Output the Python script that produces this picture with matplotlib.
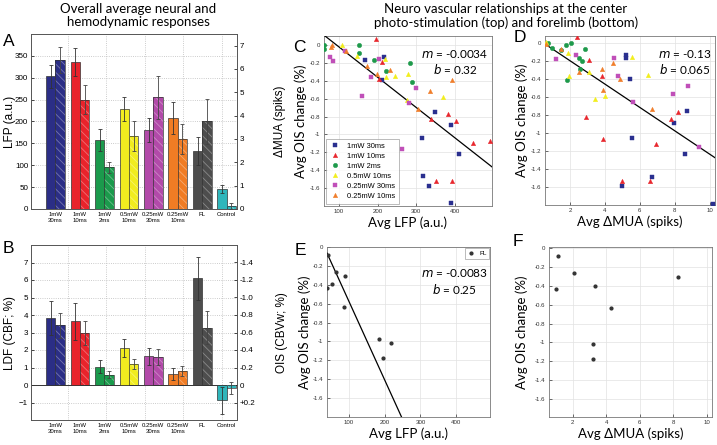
import numpy as np
import matplotlib
matplotlib.use('Agg')
import matplotlib.pyplot as plt
from matplotlib.ticker import FuncFormatter
from matplotlib.colors import to_rgb

plt.rcParams['font.family'] = ['Liberation Sans', 'DejaVu Sans']
plt.rcParams['hatch.linewidth'] = 0.6

# ---------------- bar data (panels A, B) ----------------
groups = ['1mW\n30ms', '1mW\n10ms', '1mW\n2ms', '0.5mW\n10ms',
          '0.25mW\n30ms', '0.25mW\n10ms', 'FL', 'Control']
bar_colors = ['#2b2e86', '#e8232b', '#1b9a4c', '#f1ec1f',
              '#b24aa9', '#f07c24', '#4d4d4d', '#2fb6bb']

lfp_mean = [303, 336, 157, 229, 181, 208, 132, 46]
lfp_err = [27, 32, 25, 27, 27, 37, 32, 9]
mua_mean = [6.38, 4.69, 1.78, 3.13, 4.78, 3.00, 3.75, 0.13]
mua_err = [0.56, 0.62, 0.23, 0.64, 0.94, 0.66, 0.98, 0.11]

ldf_mean = [3.85, 3.65, 1.05, 2.12, 1.63, 0.62, 6.10, -0.88]
ldf_err = [0.97, 1.05, 0.37, 0.50, 0.47, 0.35, 1.22, 0.77]
ois_mean = [-0.68, -0.59, -0.12, -0.24, -0.32, -0.16, -0.656, 0.034]
ois_err = [0.14, 0.136, 0.04, 0.056, 0.09, 0.06, 0.19, 0.07]

# ---------------- scatter data (panels C, D) ----------------
stim_names = ['1mW 30ms', '1mW 10ms', '1mW 2ms', '0.5mW 10ms',
              '0.25mW 30ms', '0.25mW 10ms']
stim_colors = ['#2a2f8f', '#e8262d', '#1e9a4b', '#f2ee1c', '#c04fb8', '#f07d2a']
stim_markers = ['s', '^', 'o', '^', 's', '^']

c_lfp = [[168, 217, 211, 347, 390, 314, 411, 316, 333, 389],
         [196, 211, 205, 381, 338, 403, 447, 490, 350, 392],
         [62, 62, 153, 153, 190, 223, 284, 288],
         [109, 148, 220, 223, 245, 279, 369, 275],
         [77, 86, 115, 203, 183, 160, 298, 281, 262],
         [80, 83, 118, 173, 198, 231, 392, 334, 303]]
c_ois = [[-0.17, -0.14, -0.39, -0.75, -0.89, -1.04, -1.22, -1.47, -1.58, -1.77],
         [0.07, -0.19, -0.38, -0.77, -0.83, -0.85, -1.10, -1.07, -1.52, -1.52],
         [0.0, -0.05, 0.0, -0.09, -0.17, -0.29, -0.20, -0.41],
         [0.0, -0.12, -0.16, -0.36, -0.35, -0.32, -0.58, -0.62],
         [-0.13, -0.18, -0.07, -0.16, -0.36, -0.57, -0.48, -0.65, -1.16],
         [-0.02, 0.0, -0.07, -0.23, -0.32, -0.28, -0.39, -0.51, -0.72]]

d_mua = [[5.2, 5.2, 5.43, 7.96, 8.67, 5.56, 8.57, 6.67, 4.95, 10.2],
         [2.38, 3.09, 3.81, 7.81, 2.9, 8.19, 6.95, 3.87, 4.95, 6.57],
         [0.75, 0.95, 1.47, 1.77, 2.06, 2.51, 2.7, 2.88, 2.55, 1.85],
         [0.6, 1.9, 1.94, 3.1, 3.43, 4.0, 5.56, 6.44],
         [1.2, 2.34, 4.51, 4.76, 5.62, 7.87, 8.76, 9.39],
         [0.65, 1.47, 2.5, 3.85, 3.9, 4.44, 4.86, 6.72]]
d_ois = [[-0.13, -0.16, -0.40, -0.89, -0.75, -1.05, -1.23, -1.49, -1.59, -1.79],
         [0.07, -0.19, -0.37, -0.84, -0.82, -0.77, -1.12, -1.07, -1.53, -1.53],
         [0.0, -0.05, -0.08, -0.02, 0.0, -0.16, -0.20, -0.06, -0.29, -0.41],
         [0.01, -0.11, -0.37, -0.32, -0.62, -0.59, -0.15, -0.35],
         [-0.18, -0.13, -0.16, -0.37, -0.65, -0.57, -0.48, -1.16],
         [-0.01, -0.07, -0.32, -0.29, -0.52, -0.22, -0.40, -0.73]]

# ---------------- forelimb data (panels E, F) ----------------
fl_lfp = [40, 39, 51, 64, 89, 86, 184, 217, 196]
fl_ois_e = [-0.08, -0.43, -0.39, -0.26, -0.31, -0.64, -0.97, -1.02, -1.18]
fl_mua = [1.14, 1.04, 3.35, 2.1, 8.25, 4.27, 3.2, 3.2]
fl_ois_f = [-0.09, -0.43, -0.40, -0.27, -0.31, -0.64, -1.02, -1.18]

fit_c = (-0.0034, 0.32)
fit_d = (-0.13, 0.065)
fit_e = (-0.0083, 0.25)

W, H = 717, 445
fig = plt.figure(figsize=(W / 100, H / 100), dpi=100)


def box(l, t, r, b):
    return [l / W, 1 - b / H, (r - l) / W, (b - t) / H]


def lighter(c, f=0.35):
    r, g, b = to_rgb(c)
    return (r + (1 - r) * f, g + (1 - g) * f, b + (1 - b) * f)


def frame(ax, col='#555'):
    for s in ax.spines.values():
        s.set_linewidth(0.6)
        s.set_color(col)


narrow = ['Liberation Sans Narrow', 'Liberation Sans']
calib = ['Lato', 'DejaVu Sans']
x = np.arange(len(groups))
bw = 0.38
grid_x = np.linspace(0.5, 6.8, 5)


def bar_panel(ax, ax2, left_vals, left_err, right_vals, right_err):
    ax.set_xlim(-1.0, 7.42)
    ax.bar(x - bw / 2, left_vals, bw, color=bar_colors, edgecolor='#333',
           linewidth=0.5, zorder=2)
    ax.errorbar(x - bw / 2, left_vals, yerr=left_err, fmt='none', ecolor='#333',
                elinewidth=0.6, capsize=1.5, capthick=0.6, zorder=3)
    ax2.bar(x + bw / 2, right_vals, bw, color=bar_colors,
            edgecolor=[lighter(c) for c in bar_colors], linewidth=0,
            hatch='\\\\\\\\', zorder=2)
    ax2.bar(x + bw / 2, right_vals, bw, facecolor='none', edgecolor='#333',
            linewidth=0.5, zorder=2)
    ax2.errorbar(x + bw / 2, right_vals, yerr=right_err, fmt='none', ecolor='#444',
                 elinewidth=0.6, capsize=1.5, capthick=0.6, zorder=3)
    ax.set_xticks(x)
    ax.set_xticklabels(groups, fontsize=4.3, family=narrow, linespacing=1.3)
    ax.set_xticks(grid_x, minor=True)
    ax.tick_params(axis='x', which='both', length=0, pad=2)
    ax.grid(True, which='minor', axis='x', ls=':', lw=0.6, color='#bbb')
    ax.grid(True, which='major', axis='y', ls=':', lw=0.6, color='#bbb')
    ax.set_axisbelow(True)
    ax.tick_params(axis='y', direction='in', length=2, width=0.5, labelsize=5.8, pad=2)
    ax2.tick_params(axis='y', direction='in', length=2, width=0.5, labelsize=5.8, pad=2)
    frame(ax)
    frame(ax2)


# ---------------- Panel A ----------------
axA = fig.add_axes(box(31, 34, 237, 209))
axA2 = axA.twinx()
bar_panel(axA, axA2, lfp_mean, lfp_err, mua_mean, mua_err)
axA.set_ylim(0, 400)
axA.set_yticks(np.arange(0, 351, 50))
axA2.set_ylim(0, 7.5)
axA2.set_yticks(np.arange(0, 8))
axA.set_ylabel('LFP (a.u.)', fontsize=8.5)
axA.yaxis.set_label_coords(-0.075, 0.5)
axA2.set_ylabel('\u0394MUA (spiks)', fontsize=8.5)
axA2.yaxis.set_label_coords(1.18, 0.5)

# ---------------- Panel B ----------------
axB = fig.add_axes(box(31, 245, 237, 420))
axB2 = axB.twinx()
bar_panel(axB, axB2, ldf_mean, ldf_err, ois_mean, ois_err)
axB.axhline(0, color='#333', lw=0.7, zorder=1)
axB.set_ylim(-2, 8)
axB.set_yticks(np.arange(-1, 8))
axB2.set_ylim(0.4, -1.6)
right_ticks = np.round(np.arange(-1.4, 0.21, 0.2), 1)
axB2.set_yticks(right_ticks)
axB2.set_yticklabels(['0' if abs(v) < 1e-9 else ('+%.1f' % v if v > 0 else '%.1f' % v)
                      for v in right_ticks])
axB.set_ylabel('LDF (CBF; %)', fontsize=8.5)
axB.yaxis.set_label_coords(-0.075, 0.5)
axB2.set_ylabel('OIS (CBVw; %)', fontsize=8.5)
axB2.yaxis.set_label_coords(1.19, 0.5)


# ---------------- scatter panels ----------------
def fmt_tick(v, p):
    v = round(v, 2)
    return '0' if abs(v) < 1e-9 else '%g' % v


def scatter_axes(rect, xlim, ylim, xticks, xlabel):
    ax = fig.add_axes(box(*rect))
    ax.set_xlim(*xlim)
    ax.set_ylim(*ylim)
    ax.set_xticks(xticks)
    ax.set_yticks(np.round(np.arange(-1.6, 0.01, 0.2), 1))
    ax.yaxis.set_major_formatter(FuncFormatter(fmt_tick))
    ax.grid(True, color='#e2e2e2', lw=0.5)
    ax.set_axisbelow(True)
    ax.tick_params(direction='in', length=2, width=0.5, labelsize=4.4,
                   colors='#333', pad=2.5)
    frame(ax, '#777')
    ax.set_xlabel(xlabel, fontsize=9.5, family=calib, labelpad=1.5)
    ax.set_ylabel('Avg OIS change (%)', fontsize=9.5, family=calib)
    return ax


def fit_line(ax, fit):
    xs = np.array(ax.get_xlim())
    ax.plot(xs, fit[0] * xs + fit[1], color='black', lw=0.9, zorder=3)


# Panel C
axC = scatter_axes((324, 36, 492, 206), (62, 495), (-1.8, 0.1),
                   [100, 200, 300, 400], 'Avg LFP (a.u.)')
for xs, ys, c, mk, nm in zip(c_lfp, c_ois, stim_colors, stim_markers, stim_names):
    axC.plot(xs, ys, ls='none', marker=mk, ms=3.2, mfc=c, mec=c, mew=0.3,
             label=nm, zorder=4)
fit_line(axC, fit_c)
axC.text(0.78, 0.93, '$m$ = -0.0034\n$b$ = 0.32', transform=axC.transAxes,
         ha='center', va='top', fontsize=8.5, family=calib, linespacing=1.2)
leg = axC.legend(loc='lower left', fontsize=5.4, frameon=True, fancybox=False,
                 edgecolor='#888', borderpad=0.5, handletextpad=1.0,
                 labelspacing=0.38, handlelength=1.3, borderaxespad=0.3)
leg.get_frame().set_linewidth(0.5)
axC.yaxis.set_label_coords(-0.1, 0.5)

# Panel D
axD = scatter_axes((545, 36, 715, 205), (0.57, 10.3), (-1.8, 0.08),
                   [2, 4, 6, 8, 10], 'Avg \u0394MUA (spiks)')
for xs, ys, c, mk in zip(d_mua, d_ois, stim_colors, stim_markers):
    axD.plot(xs, ys, ls='none', marker=mk, ms=3.2, mfc=c, mec=c, mew=0.3, zorder=4)
fit_line(axD, fit_d)
axD.text(0.82, 0.93, '$m$ = -0.13\n$b$ = 0.065', transform=axD.transAxes,
         ha='center', va='top', fontsize=8.5, family=calib, linespacing=1.2)
axD.yaxis.set_label_coords(-0.1, 0.5)

# Panel E
axE = scatter_axes((327, 247, 490, 417), (38, 495), (-1.8, 0.0),
                   [100, 200, 300, 400], 'Avg LFP (a.u.)')
axE.plot(fl_lfp, fl_ois_e, ls='none', marker='o', ms=2.0, mfc='#333', mec='#333',
         label='FL', zorder=4)
fit_line(axE, fit_e)
axE.text(0.78, 0.88, '$m$ = -0.0083\n$b$ = 0.25', transform=axE.transAxes,
         ha='center', va='top', fontsize=8.5, family=calib, linespacing=1.2)
legE = axE.legend(loc='upper right', fontsize=4.6, frameon=True, fancybox=False,
                  edgecolor='#888', borderpad=0.4, handlelength=1.0,
                  handletextpad=0.8, borderaxespad=0.15)
legE.get_frame().set_linewidth(0.5)
axE.yaxis.set_label_coords(-0.1, 0.5)

# Panel F
axF = scatter_axes((549, 247, 712, 417), (0.6, 10.3), (-1.79, 0.01),
                   [2, 4, 6, 8, 10], 'Avg \u0394MUA (spiks)')
axF.plot(fl_mua, fl_ois_f, ls='none', marker='o', ms=2.0, mfc='#333', mec='#333',
         zorder=4)
axF.yaxis.set_label_coords(-0.13, 0.5)

# ---------------- titles and panel letters ----------------
fig.text(138 / W, 1 - 3 / H, 'Overall average neural and\nhemodynamic responses',
         ha='center', va='top', fontsize=9.5, family=calib, linespacing=1.15)
fig.text(506 / W, 1 - 3 / H,
         'Neuro vascular relationships at the center\nphoto-stimulation (top) and forelimb (bottom)',
         ha='center', va='top', fontsize=9.5, family=calib, linespacing=1.15)

for lab, px, py in [('A', 3, 41), ('B', 3, 249), ('C', 293, 47),
                    ('D', 514, 38), ('E', 295, 250), ('F', 513, 242)]:
    fig.text(px / W, 1 - py / H, lab, ha='left', va='center', fontsize=12.5)

fig.savefig('out.png', dpi=100)
